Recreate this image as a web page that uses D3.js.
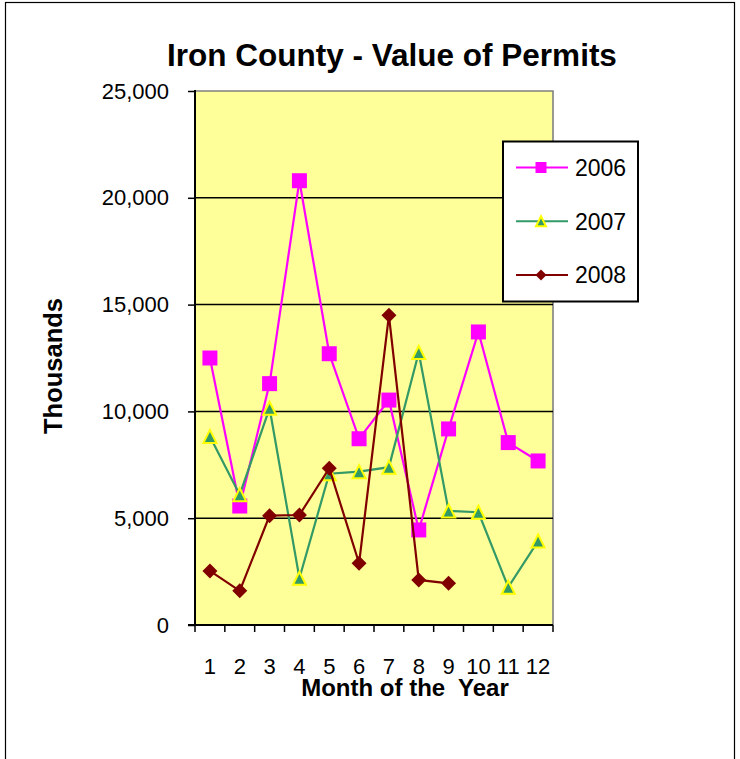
<!DOCTYPE html>
<html>

<head>
    <title>Iron County - Value of Permits</title>
    <script src="https://d3js.org/d3.v7.min.js"></script>
</head>

<body style="margin: 0; padding: 0; background: #fff;">
    <div id="container"></div>

    <script>
        // Dados (milhares de dolares)
        var months = [1, 2, 3, 4, 5, 6, 7, 8, 9, 10, 11, 12];
        var values2006 = [12500, 5570, 11300, 20800, 12700, 8720, 10530, 4450, 9180, 13720, 8540, 7680];
        var values2007 = [8830, 6100, 10150, 2190, 7080, 7180, 7390, 12760, 5340, 5280, 1770, 3930];
        var values2008 = [2530, 1600, 5120, 5150, 7340, 2890, 14500, 2110, 1950];
        var yTicks = [0, 5000, 10000, 15000, 20000, 25000];
        var seriesNames = ["2006", "2007", "2008"];

        var width = 740, height = 759;
        var plot = { left: 195, right: 553, top: 91, bottom: 625 };

        var svg = d3.select("#container").append("svg")
            .attr("width", width)
            .attr("height", height)
            .style("font-family", "Arial, 'Liberation Sans', sans-serif");

        // moldura externa
        svg.append("rect")
            .attr("x", 5.5).attr("y", 2.5)
            .attr("width", 729).attr("height", 770)
            .attr("fill", "#fff")
            .attr("stroke", "#000")
            .attr("stroke-width", 1.2);

        var x = d3.scaleBand()
            .domain(months)
            .range([plot.left, plot.right])
            .padding(0);

        var y = d3.scaleLinear()
            .domain([0, 25000])
            .range([plot.bottom, plot.top]);

        var cx = d => x(d) + x.bandwidth() / 2;

        // fundo da area de plotagem
        svg.append("rect")
            .attr("x", plot.left).attr("y", plot.top)
            .attr("width", plot.right - plot.left)
            .attr("height", plot.bottom - plot.top)
            .attr("fill", "#FFFF99");

        // borda cinza (topo e direita)
        svg.append("path")
            .attr("d", `M${plot.left},${plot.top}H${plot.right}V${plot.bottom}`)
            .attr("fill", "none")
            .attr("stroke", "#808080")
            .attr("stroke-width", 1.6);

        // linhas de grade
        svg.append("g")
            .selectAll("line")
            .data(yTicks.filter(d => d > 0 && d < 25000))
            .enter().append("line")
            .attr("x1", plot.left).attr("x2", plot.right)
            .attr("y1", d => y(d)).attr("y2", d => y(d))
            .attr("stroke", "#000")
            .attr("stroke-width", 1.5);

        // eixo Y
        var yAxis = svg.append("g")
            .attr("transform", `translate(${plot.left},0)`)
            .call(d3.axisLeft(y)
                .tickValues(yTicks)
                .tickSize(7)
                .tickPadding(19)
                .tickFormat(d3.format(",")));
        yAxis.select(".domain").remove();
        yAxis.selectAll(".tick line").attr("stroke", "#000").attr("stroke-width", 1.5);
        yAxis.selectAll("text")
            .attr("font-family", "Arial, 'Liberation Sans', sans-serif")
            .style("font-size", "22px")
            .attr("fill", "#000");
        svg.append("line")
            .attr("x1", plot.left).attr("x2", plot.left)
            .attr("y1", plot.top - 1).attr("y2", plot.bottom)
            .attr("stroke", "#000").attr("stroke-width", 2);

        // eixo X: marcas nas divisas das categorias
        var xBounds = months.map(m => x(m)).concat([plot.right]);
        svg.append("g")
            .selectAll("line")
            .data(xBounds)
            .enter().append("line")
            .attr("x1", d => d).attr("x2", d => d)
            .attr("y1", plot.bottom).attr("y2", plot.bottom + 7)
            .attr("stroke", "#000")
            .attr("stroke-width", 1.5);
        svg.append("line")
            .attr("x1", plot.left - 7).attr("x2", plot.right)
            .attr("y1", plot.bottom).attr("y2", plot.bottom)
            .attr("stroke", "#000").attr("stroke-width", 2);

        svg.append("g")
            .selectAll("text")
            .data(months)
            .enter().append("text")
            .attr("x", d => cx(d))
            .attr("y", plot.bottom + 49)
            .attr("text-anchor", "middle")
            .style("font-size", "22px")
            .text(d => d);

        // titulos
        svg.append("text")
            .attr("x", 392).attr("y", 66)
            .attr("text-anchor", "middle")
            .style("font-size", "31.5px")
            .style("font-weight", "bold")
            .text("Iron County - Value of Permits");

        svg.append("text")
            .attr("x", 405).attr("y", 696)
            .attr("text-anchor", "middle")
            .style("font-size", "24px")
            .style("font-weight", "bold")
            .style("white-space", "pre")
            .text("Month of the  Year");

        svg.append("text")
            .attr("transform", "translate(62,366) rotate(-90)")
            .attr("text-anchor", "middle")
            .style("font-size", "25.5px")
            .style("font-weight", "bold")
            .text("Thousands");

        // marcadores
        function square(s) {
            return `M${-s / 2},${-s / 2}h${s}v${s}h${-s}Z`;
        }
        function triangle(s) {
            return `M0,${-s / 2}L${s / 2},${s / 2}L${-s / 2},${s / 2}Z`;
        }
        function diamond(s) {
            return `M0,${-s / 2}L${s / 2},0L0,${s / 2}L${-s / 2},0Z`;
        }

        var series = [
            { name: seriesNames[0], values: values2006, color: "#FF00FF", marker: square, size: 15, legendSize: 11, fill: "#FF00FF", stroke: "none" },
            { name: seriesNames[1], values: values2007, color: "#339966", marker: triangle, size: 13, legendSize: 10, fill: "#339966", stroke: "#FFFF00" },
            { name: seriesNames[2], values: values2008, color: "#800000", marker: diamond, size: 15, legendSize: 11, fill: "#800000", stroke: "none" }
        ];

        var line = d3.line()
            .x(d => cx(d.month))
            .y(d => y(d.value));

        series.forEach(function (s) {
            var pts = s.values.map((v, i) => ({ month: months[i], value: v }));
            var g = svg.append("g");
            g.append("path")
                .datum(pts)
                .attr("d", line)
                .attr("fill", "none")
                .attr("stroke", s.color)
                .attr("stroke-width", 2.2);
            g.selectAll("path.m")
                .data(pts)
                .enter().append("path")
                .attr("class", "m")
                .attr("transform", d => `translate(${cx(d.month)},${y(d.value)})`)
                .attr("d", s.marker(s.size))
                .attr("fill", s.fill)
                .attr("stroke", s.stroke)
                .attr("stroke-width", 2);
        });

        // legenda
        var legend = svg.append("g");
        legend.append("rect")
            .attr("x", 503).attr("y", 141.5)
            .attr("width", 135).attr("height", 160)
            .attr("fill", "#fff")
            .attr("stroke", "#000")
            .attr("stroke-width", 2);

        var legendY = d3.scalePoint()
            .domain(seriesNames)
            .range([167.5, 275]);

        var item = legend.selectAll("g.item")
            .data(series)
            .enter().append("g")
            .attr("transform", d => `translate(0,${legendY(d.name)})`);
        item.append("line")
            .attr("x1", 516).attr("x2", 568)
            .attr("stroke", d => d.color)
            .attr("stroke-width", 2.2);
        item.append("path")
            .attr("transform", "translate(541,0)")
            .attr("d", d => d.marker(d.legendSize))
            .attr("fill", d => d.fill)
            .attr("stroke", d => d.stroke)
            .attr("stroke-width", 2);
        item.append("text")
            .attr("x", 575)
            .attr("y", 8.3)
            .style("font-size", "23px")
            .text(d => d.name);
    </script>
</body>

</html>
